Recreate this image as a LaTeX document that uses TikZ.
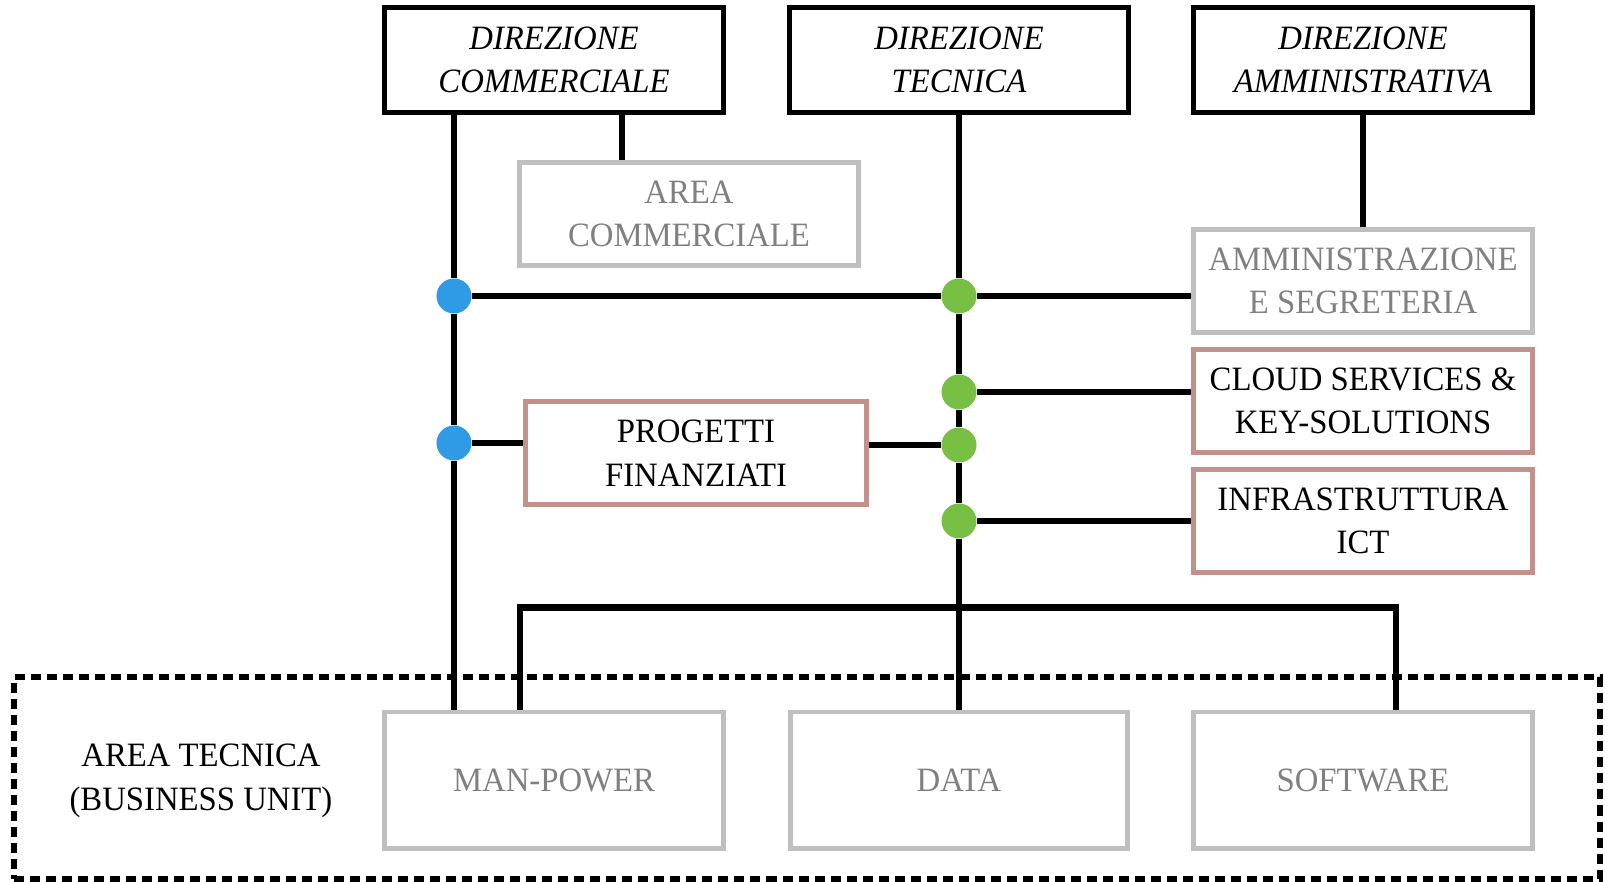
\documentclass[tikz,border=0pt]{standalone}
\usepackage{fontspec}
\setmainfont{Liberation Serif}[FakeStretch=0.96]
\usepackage{tikz}

\definecolor{bordogrigio}{HTML}{BFBFBF}
\definecolor{testogrigio}{HTML}{808080}
\definecolor{bordorosa}{HTML}{C4918A}
\definecolor{puntoblu}{HTML}{2F9AE6}
\definecolor{puntoverde}{HTML}{77C043}

\tikzset{
  casella/.style={draw,line width=1.4pt,minimum width=3.39cm,minimum height=1.03cm},
  direzione/.style={casella,draw=black,line width=1.6pt,minimum height=1.05cm,font=\itshape\fontsize{9.7}{12.2}\selectfont},
  grigia/.style={casella,draw=bordogrigio,text=testogrigio},
  rosa/.style={casella,draw=bordorosa},
  punto/.style={circle,fill=#1,minimum size=0.35cm},
  linea/.style={draw=black,line width=1.8pt},
}

\begin{document}
\begin{tikzpicture}[x=0.01cm,y=-0.01cm,
  nodes={align=center,inner sep=0pt,font=\fontsize{9.7}{12.4}\selectfont}]
\useasboundingbox (0,0) rectangle (1605,881);

% direzioni
\node[direzione] (dirc) at (554,60) {DIREZIONE\\COMMERCIALE};
\node[direzione] (dirt) at (959,60) {DIREZIONE\\TECNICA};
\node[direzione] (dira) at (1363,60) {DIREZIONE\\AMMINISTRATIVA};

% aree
\node[grigia] (areac) at (689,214) {AREA\\COMMERCIALE};
\node[grigia] (amm) at (1363,281) {AMMINISTRAZIONE\\E SEGRETERIA};
\node[rosa] (cloud) at (1363,401) {CLOUD SERVICES \&\\KEY-SOLUTIONS};
\node[rosa] (infra) at (1363,521) {INFRASTRUTTURA\\ICT};
\node[rosa,minimum width=3.40cm] (prog) at (696,453) {PROGETTI\\FINANZIATI};

% business unit
\node[draw=black,dashed,dash pattern=on 0.1cm off 0.06cm,line width=1.7pt,
  minimum width=15.85cm,minimum height=2.01cm] (bu) at (807,778) {};
\node (areat) at (201,781) {AREA TECNICA\\(BUSINESS UNIT)};
\node[grigia,minimum height=1.36cm] (mp) at (554,780) {MAN-POWER};
\node[grigia,minimum width=3.36cm,minimum height=1.36cm] (data) at (959,780) {DATA};
\node[grigia,minimum height=1.36cm] (sw) at (1363,780) {SOFTWARE};

% punti
\node[punto=puntoblu] (b1) at (454,296) {};
\node[punto=puntoblu] (b2) at (454,443) {};
\node[punto=puntoverde] (g1) at (959,296) {};
\node[punto=puntoverde] (g2) at (959,392) {};
\node[punto=puntoverde] (g3) at (959,445) {};
\node[punto=puntoverde] (g4) at (959,521) {};

% collegamenti
\draw[linea] (dirc.south -| b1) -- (b1) -- (b2) -- (mp.north -| b2);
\draw[linea] ([xshift=0.68cm]dirc.south) -- ([xshift=0.68cm]dirc.south |- areac.north);
\draw[linea] (dirt) -- (g1) -- (g2) -- (g3) -- (g4) -- (data.north -| g4);
\draw[linea] (dira) -- (amm);

\draw[linea] (b1) -- (g1) -- (amm.west |- g1);
\draw[linea] (g2) -- (cloud.west |- g2);
\draw[linea] (b2) -- (prog.west |- b2);
\draw[linea] (prog.east |- g3) -- (g3);
\draw[linea] (g4) -- (infra.west |- g4);

\draw[linea] ([xshift=-0.34cm]mp.north) -- ++(0,-102) -| ([xshift=0.33cm]sw.north);
\end{tikzpicture}
\end{document}
